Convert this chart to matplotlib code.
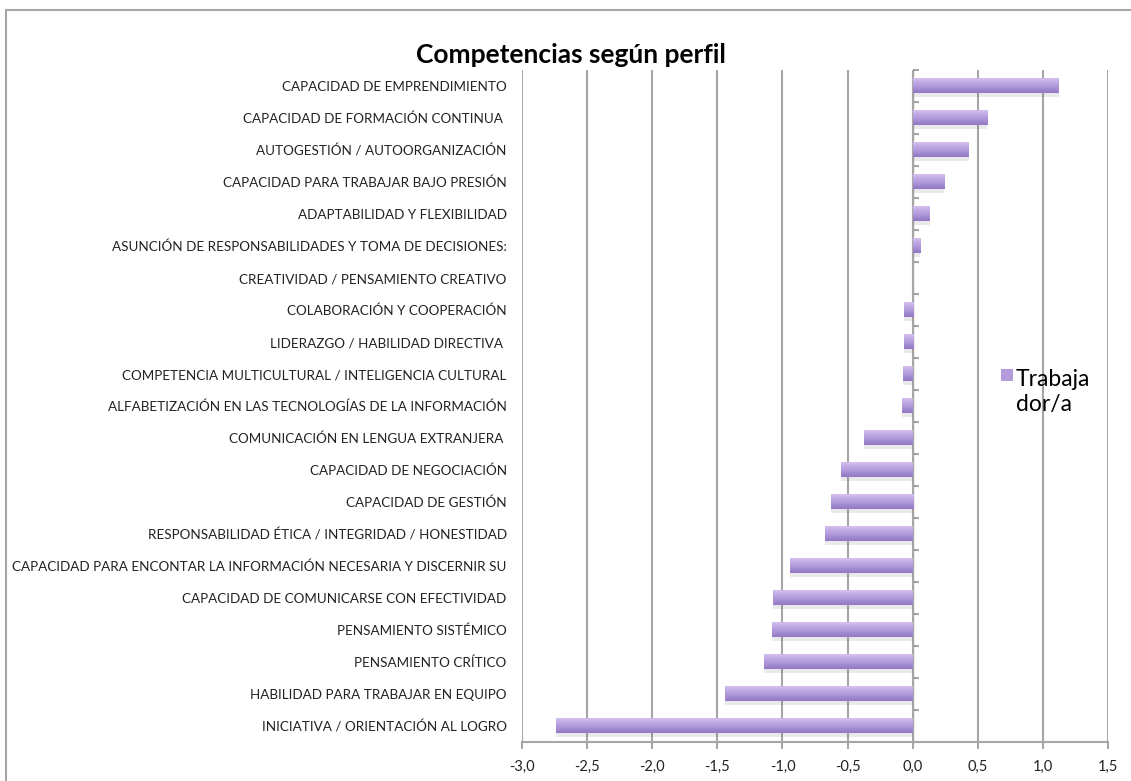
import numpy as np
import matplotlib
matplotlib.use('Agg')
import matplotlib.pyplot as plt
from matplotlib.colors import LinearSegmentedColormap
from matplotlib.patches import Rectangle
from matplotlib.ticker import FuncFormatter

# competencias, de arriba abajo
competencias = [
    'CAPACIDAD DE EMPRENDIMIENTO',
    'CAPACIDAD DE FORMACIÓN CONTINUA ',
    'AUTOGESTIÓN / AUTOORGANIZACIÓN',
    'CAPACIDAD PARA TRABAJAR BAJO PRESIÓN',
    'ADAPTABILIDAD Y FLEXIBILIDAD',
    'ASUNCIÓN DE RESPONSABILIDADES Y TOMA DE DECISIONES:',
    'CREATIVIDAD / PENSAMIENTO CREATIVO',
    'COLABORACIÓN Y COOPERACIÓN',
    'LIDERAZGO / HABILIDAD DIRECTIVA ',
    'COMPETENCIA MULTICULTURAL / INTELIGENCIA CULTURAL',
    'ALFABETIZACIÓN EN LAS TECNOLOGÍAS DE LA INFORMACIÓN',
    'COMUNICACIÓN EN LENGUA EXTRANJERA ',
    'CAPACIDAD DE NEGOCIACIÓN',
    'CAPACIDAD DE GESTIÓN',
    'RESPONSABILIDAD ÉTICA / INTEGRIDAD / HONESTIDAD',
    'CAPACIDAD PARA ENCONTAR LA INFORMACIÓN NECESARIA Y DISCERNIR SU',
    'CAPACIDAD DE COMUNICARSE CON EFECTIVIDAD',
    'PENSAMIENTO SISTÉMICO',
    'PENSAMIENTO CRÍTICO',
    'HABILIDAD PARA TRABAJAR EN EQUIPO',
    'INICIATIVA / ORIENTACIÓN AL LOGRO',
]
trabajador = [1.12, 0.57, 0.43, 0.24, 0.13, 0.055, 0.0, -0.07, -0.07, -0.075,
              -0.08, -0.37, -0.55, -0.63, -0.67, -0.94, -1.07, -1.08, -1.14,
              -1.44, -2.74]
serie = 'Trabaja\ndor/a'
x_ticks = [-3.0, -2.5, -2.0, -1.5, -1.0, -0.5, 0.0, 0.5, 1.0, 1.5]

plt.rcParams['font.family'] = ['Lato', 'DejaVu Sans']
GRIS = '#a6a6a6'
degradado = LinearSegmentedColormap.from_list('lila', ['#d3c0ee', '#b39bdc', '#9478c3'])

fig = plt.figure(figsize=(11.31, 7.81), dpi=100)
ax = fig.add_axes([522 / 1131, 1 - 742 / 781, 586 / 1131, 672 / 781])

# borde del area del grafico
fig.add_artist(Rectangle((6 / 1131, -0.1), 1.2, 1.1 - 10 / 781, transform=fig.transFigure,
                         fill=False, edgecolor=GRIS, linewidth=1.5))

pos = np.arange(len(competencias))
alto = 0.45
grad = np.linspace(0, 1, 64).reshape(-1, 1)
for y, v in zip(pos, trabajador):
    if v == 0:
        continue
    # sombra suave bajo la barra
    ax.barh(y + 0.12, v, height=alto, color='#555555', alpha=0.12, zorder=2, linewidth=0)
    ax.imshow(grad, cmap=degradado, aspect='auto', origin='upper', zorder=3,
              extent=(min(0, v), max(0, v), y + alto / 2, y - alto / 2))

ax.set_xlim(-3.0, 1.5)
ax.set_ylim(len(competencias) - 0.5, -0.5)
ax.set_xticks(x_ticks)
ax.xaxis.set_major_formatter(FuncFormatter(lambda v, p: f'{v:.1f}'.replace('.', ',')))
ax.set_yticks(pos)
ax.set_yticklabels(competencias, fontsize=9.7, color='#222222')
ax.tick_params(axis='y', length=0, pad=11)
ax.tick_params(axis='x', length=5, color=GRIS, width=1.5, labelsize=10.5,
               labelcolor='#222222', pad=8)
ax.grid(axis='x', color=GRIS, linewidth=1.5, zorder=0)
ax.set_axisbelow(True)
for s in ['top', 'right', 'left']:
    ax.spines[s].set_visible(False)
ax.spines['bottom'].set_color(GRIS)
ax.spines['bottom'].set_linewidth(1.5)

# eje de categorias en el cero
eje0 = ax.secondary_yaxis(3.0 / 4.5)
eje0.set_yticks(np.arange(-0.5, len(competencias), 1))
eje0.set_yticklabels([])
eje0.tick_params(length=4, color=GRIS, width=1.5)
eje0.spines['left'].set_color(GRIS)
eje0.spines['left'].set_linewidth(1.5)

fig.text(571 / 1131, 1 - 55 / 781, 'Competencias según perfil', ha='center', va='center',
         fontsize=19, fontweight='bold')

# leyenda
fig.add_artist(Rectangle((1001 / 1131, 1 - 381 / 781), 12 / 1131, 12 / 781,
                         transform=fig.transFigure, facecolor='#b39bdc', edgecolor='none'))
fig.text(1016 / 1131, 1 - 392 / 781, serie, ha='left', va='center', fontsize=16.5,
         linespacing=1.25)

fig.savefig('out.png', dpi=100)
